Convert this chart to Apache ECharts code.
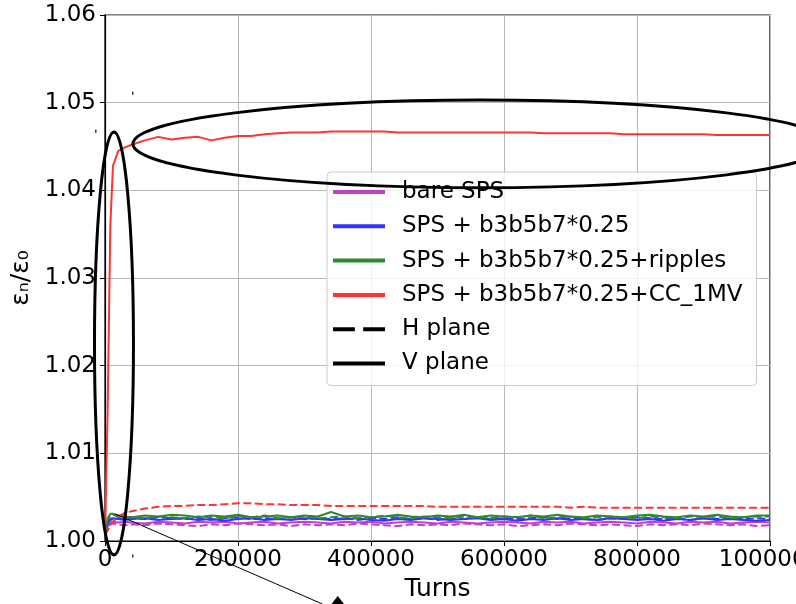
<!DOCTYPE html>
<html>
<head>
<meta charset="utf-8">
<script src="https://cdn.jsdelivr.net/npm/echarts@6/dist/echarts.min.js"></script>
<style>
  html, body { margin: 0; padding: 0; background: #fff; }
  #chart { width: 796px; height: 604px; }
</style>
</head>
<body>
<div id="chart"></div>
<script>
// Turn numbers at which the normalised emittance was sampled
const turns = [
  0, 4000, 8000, 12000, 20000, 30000, 40000, 60000, 80000, 100000, 120000,
  140000, 160000, 180000, 200000, 220000, 240000, 260000, 280000, 300000, 320000, 340000,
  360000, 380000, 400000, 420000, 440000, 460000, 480000, 500000, 520000, 540000, 560000,
  580000, 600000, 620000, 640000, 660000, 680000, 700000, 720000, 740000, 760000, 780000,
  800000, 820000, 840000, 860000, 880000, 900000, 920000, 940000, 960000, 980000, 1000000
];

// Legend labels: four machine configurations, then the two planes
const configNames = [
  'bare SPS',
  'SPS + b3b5b7*0.25',
  'SPS + b3b5b7*0.25+ripples',
  'SPS + b3b5b7*0.25+CC_1MV'
];
const planeNames = ['H plane', 'V plane'];

// eps_n / eps_0, bare SPS
const bareH = [
  1.0005, 1.0015, 1.0019, 1.0020, 1.0019, 1.0018, 1.0019, 1.0018, 1.0020, 1.0019, 1.0018,
  1.0017, 1.0019, 1.0018, 1.0020, 1.0019, 1.0018, 1.0019, 1.0017, 1.0019, 1.0018, 1.0019,
  1.0018, 1.0020, 1.0019, 1.0018, 1.0017, 1.0019, 1.0018, 1.0019, 1.0018, 1.0020, 1.0019,
  1.0018, 1.0019, 1.0017, 1.0018, 1.0019, 1.0018, 1.0020, 1.0019, 1.0018, 1.0019, 1.0018,
  1.0017, 1.0019, 1.0018, 1.0019, 1.0018, 1.0020, 1.0019, 1.0018, 1.0019, 1.0017, 1.0018
];
const bareV = [
  1.0006, 1.0017, 1.0021, 1.0022, 1.0021, 1.0022, 1.0021, 1.0020, 1.0022, 1.0021, 1.0020,
  1.0022, 1.0021, 1.0022, 1.0020, 1.0021, 1.0022, 1.0020, 1.0021, 1.0022, 1.0021, 1.0020,
  1.0022, 1.0021, 1.0022, 1.0020, 1.0021, 1.0022, 1.0021, 1.0020, 1.0022, 1.0021, 1.0020,
  1.0021, 1.0022, 1.0021, 1.0020, 1.0022, 1.0021, 1.0022, 1.0020, 1.0021, 1.0022, 1.0021,
  1.0020, 1.0022, 1.0021, 1.0020, 1.0022, 1.0021, 1.0022, 1.0020, 1.0021, 1.0022, 1.0021
];
// SPS + b3b5b7*0.25
const multH = [
  1.0006, 1.0019, 1.0024, 1.0025, 1.0026, 1.0025, 1.0026, 1.0025, 1.0027, 1.0026, 1.0025,
  1.0026, 1.0024, 1.0026, 1.0027, 1.0025, 1.0026, 1.0025, 1.0027, 1.0025, 1.0026, 1.0025,
  1.0026, 1.0024, 1.0026, 1.0025, 1.0027, 1.0025, 1.0026, 1.0024, 1.0026, 1.0025, 1.0027,
  1.0025, 1.0026, 1.0025, 1.0026, 1.0027, 1.0025, 1.0026, 1.0025, 1.0024, 1.0026, 1.0025,
  1.0027, 1.0026, 1.0025, 1.0026, 1.0024, 1.0026, 1.0025, 1.0026, 1.0025, 1.0026, 1.0025
];
const multV = [
  1.0007, 1.0020, 1.0025, 1.0026, 1.0025, 1.0024, 1.0025, 1.0026, 1.0024, 1.0025, 1.0026,
  1.0024, 1.0025, 1.0023, 1.0025, 1.0026, 1.0024, 1.0025, 1.0024, 1.0026, 1.0025, 1.0024,
  1.0025, 1.0026, 1.0024, 1.0023, 1.0025, 1.0024, 1.0026, 1.0025, 1.0024, 1.0025, 1.0026,
  1.0024, 1.0025, 1.0023, 1.0025, 1.0024, 1.0026, 1.0024, 1.0025, 1.0024, 1.0026, 1.0025,
  1.0024, 1.0025, 1.0023, 1.0025, 1.0024, 1.0026, 1.0024, 1.0025, 1.0024, 1.0023, 1.0024
];
// SPS + b3b5b7*0.25 + ripples
const ripH = [
  1.0007, 1.0023, 1.0029, 1.0030, 1.0028, 1.0027, 1.0027, 1.0026, 1.0028, 1.0027, 1.0026,
  1.0028, 1.0027, 1.0026, 1.0028, 1.0027, 1.0029, 1.0026, 1.0027, 1.0028, 1.0026, 1.0027,
  1.0028, 1.0026, 1.0027, 1.0029, 1.0027, 1.0026, 1.0028, 1.0027, 1.0026, 1.0028, 1.0027,
  1.0026, 1.0028, 1.0027, 1.0029, 1.0026, 1.0027, 1.0028, 1.0026, 1.0027, 1.0028, 1.0027,
  1.0026, 1.0028, 1.0027, 1.0026, 1.0028, 1.0027, 1.0028, 1.0026, 1.0027, 1.0028, 1.0028
];
const ripV = [
  1.0008, 1.0026, 1.0031, 1.0031, 1.0029, 1.0028, 1.0027, 1.0029, 1.0028, 1.0030, 1.0029,
  1.0027, 1.0029, 1.0028, 1.0030, 1.0027, 1.0028, 1.0029, 1.0027, 1.0029, 1.0028, 1.0033,
  1.0028, 1.0029, 1.0027, 1.0028, 1.0030, 1.0028, 1.0027, 1.0029, 1.0028, 1.0030, 1.0027,
  1.0029, 1.0028, 1.0027, 1.0029, 1.0028, 1.0030, 1.0028, 1.0027, 1.0029, 1.0028, 1.0027,
  1.0029, 1.0030, 1.0028, 1.0027, 1.0029, 1.0028, 1.0030, 1.0028, 1.0027, 1.0029, 1.0029
];
// SPS + b3b5b7*0.25 + crab cavities at 1 MV
const ccH = [
  1.0007, 1.0012, 1.0018, 1.0022, 1.0028, 1.0032, 1.0034, 1.0037, 1.0039, 1.0040, 1.0040,
  1.0041, 1.0041, 1.0042, 1.0043, 1.0043, 1.0042, 1.0042, 1.0041, 1.0041, 1.0041, 1.0040,
  1.0040, 1.0040, 1.0040, 1.0040, 1.0040, 1.0040, 1.0040, 1.0039, 1.0039, 1.0039, 1.0039,
  1.0039, 1.0039, 1.0039, 1.0039, 1.0039, 1.0039, 1.0038, 1.0039, 1.0038, 1.0038, 1.0038,
  1.0038, 1.0038, 1.0038, 1.0038, 1.0038, 1.0038, 1.0038, 1.0038, 1.0038, 1.0038, 1.0038
];
const ccV = [
  1.0005, 1.0150, 1.0360, 1.0428, 1.0445, 1.0449, 1.0452, 1.0457, 1.0461, 1.0458, 1.0460,
  1.0461, 1.0457, 1.0460, 1.0462, 1.0462, 1.0464, 1.0465, 1.0466, 1.0466, 1.0466, 1.0467,
  1.0467, 1.0467, 1.0467, 1.0467, 1.0466, 1.0466, 1.0466, 1.0466, 1.0466, 1.0466, 1.0466,
  1.0466, 1.0466, 1.0466, 1.0466, 1.0465, 1.0465, 1.0465, 1.0465, 1.0465, 1.0465, 1.0464,
  1.0464, 1.0464, 1.0464, 1.0464, 1.0464, 1.0464, 1.0463, 1.0463, 1.0463, 1.0463, 1.0463
];

const hSets = [bareH, multH, ripH, ccH];
const vSets = [bareV, multV, ripV, ccV];
const colors = ['#c040c8', '#3333ff', '#2e8a2e', '#ff3333'];

const FONT = 'DejaVu Sans';
const pairs = vals => turns.map((t, i) => [t, vals[i]]);

const series = [];
configNames.forEach((name, i) => {
  series.push({
    name: name + ' (H)',
    type: 'line', symbol: 'none', silent: true,
    data: pairs(hSets[i]),
    lineStyle: { color: colors[i], width: 2, type: [8, 3.5] },
    itemStyle: { color: colors[i] }
  });
  series.push({
    name: name,
    type: 'line', symbol: 'none', silent: true,
    data: pairs(vSets[i]),
    lineStyle: { color: colors[i], width: 2 },
    itemStyle: { color: colors[i] }
  });
});
// Legend-only entries for the line style of each plane
planeNames.forEach(name => {
  series.push({
    name: name, type: 'line', symbol: 'none', data: [],
    lineStyle: { color: '#000', width: 2 }, itemStyle: { color: '#000' }
  });
});

// Legend handles: a thick bar, or two dashes for the H plane
const SOLID = 'rect';
const DASHED = 'path://M0,0H21V4H0Z M29,0H50V4H29Z';
const legendData = configNames.map(n => ({ name: n, icon: SOLID }))
  .concat([{ name: planeNames[0], icon: DASHED }, { name: planeNames[1], icon: SOLID }]);

const chart = echarts.init(document.getElementById('chart'));
chart.setOption({
  animation: false,
  backgroundColor: '#fff',
  grid: {
    left: 105, right: 26, top: 15, bottom: 63,
    outerBoundsMode: 'none',
    show: true, borderColor: '#000', borderWidth: 1.2
  },
  xAxis: {
    type: 'value', min: 0, max: 1000000, interval: 200000,
    name: 'Turns', nameLocation: 'middle', nameGap: 35,
    nameTextStyle: { fontSize: 25, color: '#000', fontFamily: FONT },
    axisLine: { show: true, lineStyle: { color: '#000', width: 1.2 } },
    axisTick: { show: true, length: 5, lineStyle: { color: '#000' } },
    axisLabel: { fontSize: 23, color: '#000', fontFamily: FONT, margin: 8,
                 showMaxLabel: true, hideOverlap: false, formatter: v => String(v) },
    splitLine: { show: true, lineStyle: { color: '#b8b8b8', width: 1 } }
  },
  yAxis: {
    type: 'value', min: 1.0, max: 1.06, interval: 0.01,
    name: 'εₙ/ε₀', nameLocation: 'middle', nameGap: 70, nameRotate: 90,
    nameTextStyle: { fontSize: 25, color: '#000', fontFamily: FONT },
    axisLine: { show: true, lineStyle: { color: '#000', width: 1.2 } },
    axisTick: { show: true, length: 5, lineStyle: { color: '#000' } },
    axisLabel: { fontSize: 23, color: '#000', fontFamily: FONT, margin: 9,
                 formatter: v => v.toFixed(2) },
    splitLine: { show: true, lineStyle: { color: '#b8b8b8', width: 1 } }
  },
  legend: {
    data: legendData,
    orient: 'vertical', left: 327, top: 172,
    itemWidth: 52, itemHeight: 4, itemGap: 8.3,
    symbolKeepAspect: false,
    padding: [7, 14, 9, 6],
    backgroundColor: 'rgba(255,255,255,0.8)',
    borderColor: '#cccccc', borderWidth: 1, borderRadius: 4,
    selectedMode: false,
    textStyle: { fontSize: 23, color: '#000', fontFamily: FONT, lineHeight: 26,
                 padding: [0, 0, 0, 12] }
  },
  series: series
});

// Hand-drawn highlight annotations, anchored in data coordinates
const ellipses = [
  { cx: 565000, cy: 1.0453, rx: 523000, ry: 0.0050 },
  { cx: 13500,  cy: 1.02252, rx: 29300, ry: 0.02412 }
];
const arrow = { from: [15500, 1.00308], to: [327000, 0.99281], tip: [350000, 0.99373] };
const specks = [[42100, 1.05108], [-13500, 1.04675], [42100, 0.99829]];

const px = p => chart.convertToPixel({ gridIndex: 0 }, p);
const graphics = [];
ellipses.forEach(e => {
  const c = px([e.cx, e.cy]);
  const r = px([e.cx + e.rx, e.cy + e.ry]);
  graphics.push({
    type: 'ellipse', z: 100, silent: true,
    shape: { cx: c[0], cy: c[1], rx: Math.abs(r[0] - c[0]), ry: Math.abs(c[1] - r[1]) },
    style: { fill: null, stroke: '#000', lineWidth: 3 }
  });
});
const a0 = px(arrow.from), a1 = px(arrow.to), tp = px(arrow.tip);
graphics.push({
  type: 'line', z: 100, silent: true,
  shape: { x1: a0[0], y1: a0[1], x2: a1[0], y2: a1[1] },
  style: { stroke: '#000', lineWidth: 1 }
});
graphics.push({
  type: 'polygon', z: 100, silent: true,
  shape: { points: [[tp[0], tp[1]], [tp[0] - 7, tp[1] + 9], [tp[0] + 7, tp[1] + 9]] },
  style: { fill: '#000' }
});
specks.forEach(s => {
  const p = px(s);
  graphics.push({
    type: 'rect', z: 100, silent: true,
    shape: { x: p[0] - 1, y: p[1] - 1.5, width: 1.5, height: 3 },
    style: { fill: '#333' }
  });
});
chart.setOption({ graphic: graphics });
</script>
</body>
</html>
